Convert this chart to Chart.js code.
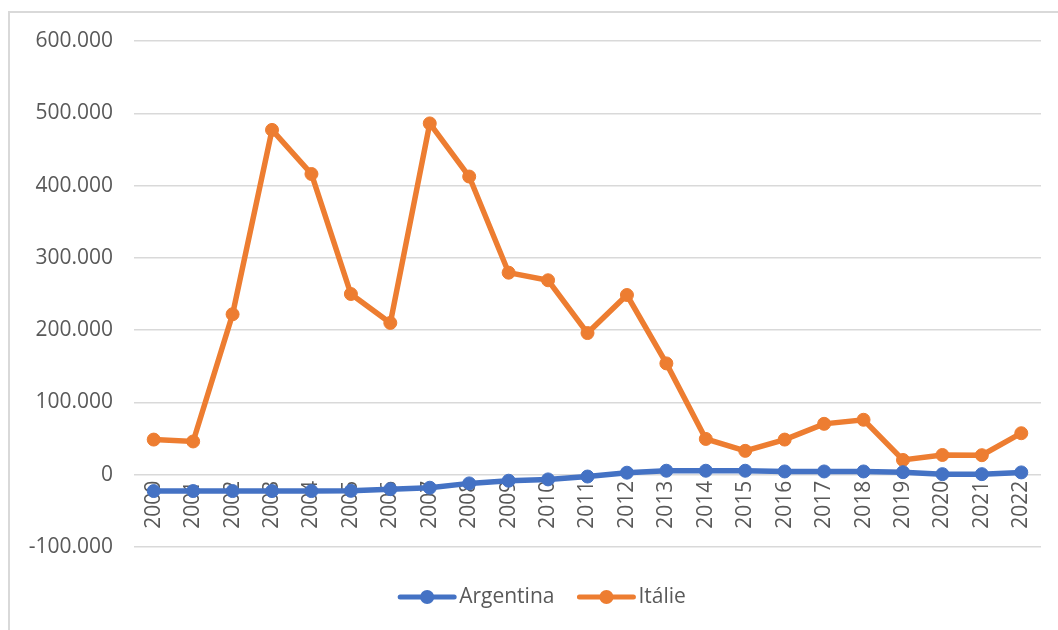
<!DOCTYPE html>
<html>
<head>
<meta charset="utf-8">
<script src="https://cdn.jsdelivr.net/npm/chart.js@4"></script>
<style>
	body { margin: 0; background: #fff; overflow: hidden; }
	#frame { position: absolute; left: 8px; top: 11px; width: 2000px; height: 2000px;
		border-left: 2px solid #d9d9d9; border-top: 2px solid #d9d9d9; }
	#wrap { position: absolute; left: 0; top: 0; width: 1058px; height: 630px; }
</style>
</head>
<body>
<div id="frame"></div>
<div id="wrap"><canvas id="lineChart"></canvas></div>
<script>
const years = ["2000", "2001", "2002", "2003", "2004", "2005", "2006", "2007", "2008", "2009", "2010", "2011",
	"2012", "2013", "2014", "2015", "2016", "2017", "2018", "2019", "2020", "2021", "2022"];

const argentina = [-22600, -22600, -22600, -22600, -22600, -22300, -20000, -18000, -12000, -8300, -6500, -2500,
	2800, 5500, 5500, 5500, 4500, 4500, 4500, 3500, 800, 800, 3200];

const italie = [48600, 46000, 222000, 477000, 416000, 250000, 210000, 486000, 412500, 279500, 269000, 196000,
	248600, 154000, 49500, 33000, 48600, 70400, 76000, 20400, 27300, 27000, 57400];

const yTicks = { min: -100000, max: 600000, step: 100000 };

const textColor = "#595959";
const gridColor = "#d9d9d9";
const fontFamily = "'Open Sans', 'Liberation Sans', sans-serif";
const fontSize = 21;

// excel style legend (line + dot), drawn under the plot
const excelLegend = {
	id: 'excelLegend',
	afterDraw(chart) {
		const ctx = chart.ctx;
		const sets = chart.data.datasets;
		const lineLen = 58, textGap = 3, itemGap = 23;
		ctx.save();
		ctx.font = fontSize + "px " + fontFamily;
		let total = 0;
		sets.forEach((ds, i) => {
			total += lineLen + textGap + ctx.measureText(ds.label).width;
			if (i < sets.length - 1) total += itemGap;
		});
		let x = 542 - total / 2;
		const y = 597;
		sets.forEach((ds) => {
			ctx.strokeStyle = ds.borderColor;
			ctx.fillStyle = ds.borderColor;
			ctx.lineWidth = 5;
			ctx.lineCap = "round";
			ctx.beginPath();
			ctx.moveTo(x + 2, y);
			ctx.lineTo(x + lineLen - 2, y);
			ctx.stroke();
			ctx.beginPath();
			ctx.arc(x + lineLen / 2, y, 7, 0, Math.PI * 2);
			ctx.fill();
			x += lineLen + textGap;
			ctx.fillStyle = textColor;
			ctx.textBaseline = "middle";
			ctx.textAlign = "left";
			ctx.fillText(ds.label, x, y);
			x += ctx.measureText(ds.label).width + itemGap;
		});
		ctx.restore();
	}
};

new Chart(document.querySelector("#lineChart"), {
	type: 'line',
	data: {
		labels: years,
		datasets: [{
			label: 'Argentina',
			data: argentina,
			borderColor: "#4472c4",
			backgroundColor: "#4472c4",
			borderWidth: 5.5,
			pointRadius: 6.5,
			pointBorderWidth: 1,
			fill: false,
			tension: 0
		}, {
			label: 'Itálie',
			data: italie,
			borderColor: "#ed7d31",
			backgroundColor: "#ed7d31",
			borderWidth: 5.5,
			pointRadius: 6.5,
			pointBorderWidth: 1,
			fill: false,
			tension: 0
		}]
	},
	options: {
		responsive: true,
		maintainAspectRatio: false,
		animation: false,
		layout: {
			padding: { left: 0, right: 17, top: 41, bottom: 83 }
		},
		scales: {
			x: {
				position: { y: 0 },
				offset: true,
				grid: { display: false, drawTicks: false },
				border: { display: false },
				ticks: {
					color: textColor,
					font: { family: fontFamily, size: fontSize },
					minRotation: 90,
					maxRotation: 90,
					padding: 6,
					autoSkip: false
				}
			},
			y: {
				min: yTicks.min,
				max: yTicks.max,
				grid: { color: gridColor, lineWidth: 1.5, drawTicks: false },
				border: { display: false },
				ticks: {
					stepSize: yTicks.step,
					color: textColor,
					font: { family: fontFamily, size: fontSize },
					padding: 21,
					callback: (v) => v.toLocaleString('de-DE')
				},
				afterFit: (scale) => { scale.width = 134; }
			}
		},
		plugins: {
			tooltip: { enabled: false },
			legend: { display: false }
		}
	},
	plugins: [excelLegend]
});
</script>
</body>
</html>
